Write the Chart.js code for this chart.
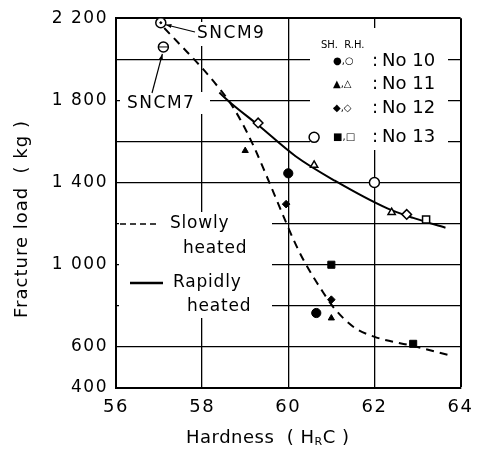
<!DOCTYPE html>
<html>
<head>
<meta charset="utf-8">
<script src="https://cdn.jsdelivr.net/npm/chart.js@4/dist/chart.umd.min.js"></script>
<style>
  html,body{margin:0;padding:0;background:#fff}
</style>
</head>
<body>
<canvas id="grafica" width="481" height="450"></canvas>
<script>
// =========================
// DATA
// =========================
// axis ticks
const xTicks = [56, 58, 60, 62, 64];
const yLabelValues = [400, 600, 1000, 1400, 1800, 2200];
const yLabelText = ['400', '600', '1 000', '1 400', '1 800', '2 200'];

// slowly heated (SH) - filled marks
const sh10Hard = [60.0, 60.65], sh10Load = [1445, 765];
const sh11Hard = [59.0, 61.0],  sh11Load = [1555, 740];
const sh12Hard = [59.95, 61.0], sh12Load = [1295, 830];
const sh13Hard = [61.0, 62.9],  sh13Load = [1000, 615];

// rapidly heated (RH) - open marks
const rh10Hard = [60.6, 62.0],  rh10Load = [1620, 1400];
const rh11Hard = [60.6, 62.4],  rh11Load = [1485, 1255];
const rh12Hard = [59.3, 62.75], rh12Load = [1690, 1245];
const rh13Hard = [63.2],        rh13Load = [1220];

// reference steels
const sncm9Hard = [57.04], sncm9Load = [2178];
const sncm7Hard = [57.1],  sncm7Load = [2060];

// fitted curves
const slowHard = [57.12, 57.53, 57.98, 58.36, 58.66, 58.89, 59.19, 59.42, 59.72, 59.95, 60.17, 60.4, 60.78, 61.08, 61.53, 61.99, 62.89, 63.73];
const slowLoad = [2152, 2062, 1962, 1868, 1785, 1705, 1580, 1470, 1320, 1205, 1100, 1005, 875, 785, 695, 650, 605, 560];
const rapidHard = [58.4, 58.65, 59.3, 60.17, 61.08, 62.3, 62.9, 63.65];
const rapidLoad = [1838, 1790, 1680, 1528, 1409, 1274, 1228, 1180];

// =========================
// HELPERS
// =========================
const FONT = '"DejaVu Sans", sans-serif';

function puntos(hs, ls) {
  return hs.map((h, i) => ({x: h, y: ls[i]}));
}

function marca(hs, ls, estilo, radio, relleno) {
  return {
    data: puntos(hs, ls),
    pointStyle: estilo,
    pointRadius: radio,
    pointBackgroundColor: relleno ? '#000' : '#fff',
    pointBorderColor: '#000',
    pointBorderWidth: relleno ? 1 : 1.5,
    order: 1
  };
}

function curva(hs, ls, dash) {
  return {
    data: puntos(hs, ls),
    showLine: true,
    pointRadius: 0,
    borderColor: '#000',
    borderWidth: 2,
    borderDash: dash,
    cubicInterpolationMode: 'monotone',
    order: 2
  };
}

function flecha(ctx, x1, y1, x2, y2) {
  // line from (x1,y1) to (x2,y2) with head at the end
  ctx.beginPath();
  ctx.moveTo(x1, y1);
  ctx.lineTo(x2, y2);
  ctx.stroke();
  const a = Math.atan2(y2 - y1, x2 - x1);
  ctx.beginPath();
  ctx.moveTo(x2, y2);
  ctx.lineTo(x2 - 6 * Math.cos(a - 0.35), y2 - 6 * Math.sin(a - 0.35));
  ctx.lineTo(x2 - 6 * Math.cos(a + 0.35), y2 - 6 * Math.sin(a + 0.35));
  ctx.closePath();
  ctx.fill();
}

// =========================
// PLUGINS
// =========================
// wider lettering for the tick labels
const espaciado = {
  id: 'espaciado',
  beforeDraw(chart) { chart.ctx.letterSpacing = '1.5px'; },
  afterDraw(chart) { chart.ctx.letterSpacing = '0px'; }
};

// white patches where the original grid is broken by the labels
const mascaras = {
  id: 'mascaras',
  beforeDatasetsDraw(chart) {
    const {ctx} = chart;
    ctx.save();
    ctx.fillStyle = '#fff';
    ctx.fillRect(310, 28, 138, 122);   // legend block
    ctx.fillRect(119, 212, 153, 106);  // slowly / rapidly labels
    ctx.fillRect(190, 22, 80, 24);     // SNCM9
    ctx.fillRect(120, 92, 90, 22);     // SNCM7
    ctx.restore();
  }
};

const textos = {
  id: 'textos',
  afterDraw(chart) {
    const {ctx} = chart;
    const sx = chart.scales.x, sy = chart.scales.y;
    const px = v => sx.getPixelForValue(v);
    const py = v => sy.getPixelForValue(v);
    ctx.save();
    ctx.fillStyle = '#000';
    ctx.strokeStyle = '#000';
    ctx.textBaseline = 'middle';
    ctx.textAlign = 'left';

    // SNCM labels with leaders
    ctx.lineWidth = 1.2;
    ctx.letterSpacing = '1.5px';
    ctx.font = '17px ' + FONT;
    ctx.fillText('SNCM9', 197, 34);
    flecha(ctx, 195, 32, px(sncm9Hard[0]) + 5, py(sncm9Load[0]) + 2);
    ctx.fillText('SNCM7', 127, 104);
    flecha(ctx, 152, 93, px(sncm7Hard[0]) - 1, py(sncm7Load[0]) + 7);

    // legend for markers
    ctx.letterSpacing = '0px';
    ctx.font = '10px ' + FONT;
    ctx.fillText('SH.  R.H.', 321, 45);
    const filas = [['\u25CF,\u25CB', 'No 10', 61], ['\u25B2,\u25B3', 'No 11', 84],
                   ['\u25C6,\u25C7', 'No 12', 108], ['\u25A0,\u25A1', 'No 13', 137]];
    filas.forEach(f => {
      ctx.font = '10px ' + FONT;
      ctx.fillText(f[0], 333, f[2]);
      ctx.font = '18px ' + FONT;
      ctx.fillText(':', 372, f[2]);
      ctx.fillText(f[1], 382, f[2]);
    });

    // line legend
    ctx.letterSpacing = '0.8px';
    ctx.font = '17px ' + FONT;
    ctx.lineWidth = 1.5;
    ctx.setLineDash([6, 4]);
    ctx.beginPath(); ctx.moveTo(120, 224); ctx.lineTo(156, 224); ctx.stroke();
    ctx.setLineDash([]);
    ctx.fillText('Slowly', 170, 224);
    ctx.fillText('heated', 183, 249);
    ctx.lineWidth = 2.5;
    ctx.beginPath(); ctx.moveTo(130, 283); ctx.lineTo(163, 283); ctx.stroke();
    ctx.fillText('Rapidly', 173, 283);
    ctx.fillText('heated', 187, 307);

    // axis titles
    ctx.letterSpacing = '0.5px';
    ctx.font = '18px ' + FONT;
    let x = 186;
    ctx.fillText('Hardness  ( H', x, 438);
    x += ctx.measureText('Hardness  ( H').width;
    ctx.font = '11px ' + FONT;
    ctx.fillText('R', x, 442);
    x += ctx.measureText('R').width;
    ctx.font = '18px ' + FONT;
    ctx.fillText('C )', x, 438);

    ctx.letterSpacing = '1px';
    ctx.translate(22, 219);
    ctx.rotate(-Math.PI / 2);
    ctx.textAlign = 'center';
    ctx.fillText('Fracture load  ( kg )', 0, 0);
    ctx.restore();
  }
};

// =========================
// CHART
// =========================
new Chart(document.getElementById('grafica'), {
  type: 'scatter',
  data: {
    datasets: [
      marca(sncm9Hard, sncm9Load, 'circle', 1, true),
      marca(sncm9Hard, sncm9Load, 'circle', 5, false),
      marca(sncm7Hard, sncm7Load, 'line', 5, true),
      marca(sncm7Hard, sncm7Load, 'circle', 5, false),
      marca(sh10Hard, sh10Load, 'circle', 4.6, true),
      marca(sh11Hard, sh11Load, 'triangle', 3.6, true),
      marca(sh12Hard, sh12Load, 'rectRot', 3.8, true),
      marca(sh13Hard, sh13Load, 'rect', 5, true),
      marca(rh10Hard, rh10Load, 'circle', 5, false),
      marca(rh11Hard, rh11Load, 'triangle', 4.2, false),
      marca(rh12Hard, rh12Load, 'rectRot', 4.8, false),
      marca(rh13Hard, rh13Load, 'rect', 5, false),
      curva(slowHard, slowLoad, [8, 6]),
      curva(rapidHard, rapidLoad, [])
    ]
  },
  options: {
    responsive: false,
    animation: false,
    devicePixelRatio: 1,
    layout: {padding: {top: 17, right: 12, left: 0, bottom: 0}},
    plugins: {legend: {display: false}, tooltip: {enabled: false}},
    scales: {
      x: {
        type: 'linear', min: 56, max: 64,
        afterBuildTicks: s => { s.ticks = xTicks.map(v => ({value: v})); },
        afterFit: s => { s.height = 62; },
        ticks: {color: '#000', padding: 9, font: {family: FONT, size: 18}},
        grid: {color: '#000', lineWidth: c => (c.tick && c.tick.value === 64 ? 2 : 1.3), drawTicks: false},
        border: {color: '#000', width: 2}
      },
      y: {
        type: 'linear', min: 400, max: 2200,
        afterFit: s => { s.width = 116; },
        ticks: {
          stepSize: 200, autoSkip: false, color: '#000', padding: 8,
          font: {family: FONT, size: 17},
          callback: v => {
            const i = yLabelValues.indexOf(v);
            return i >= 0 ? yLabelText[i] : '';
          }
        },
        grid: {color: '#000', lineWidth: c => (c.tick && c.tick.value === 2200 ? 2 : 1.3), drawTicks: false},
        border: {color: '#000', width: 2}
      }
    }
  },
  plugins: [espaciado, mascaras, textos]
});
</script>
</body>
</html>
